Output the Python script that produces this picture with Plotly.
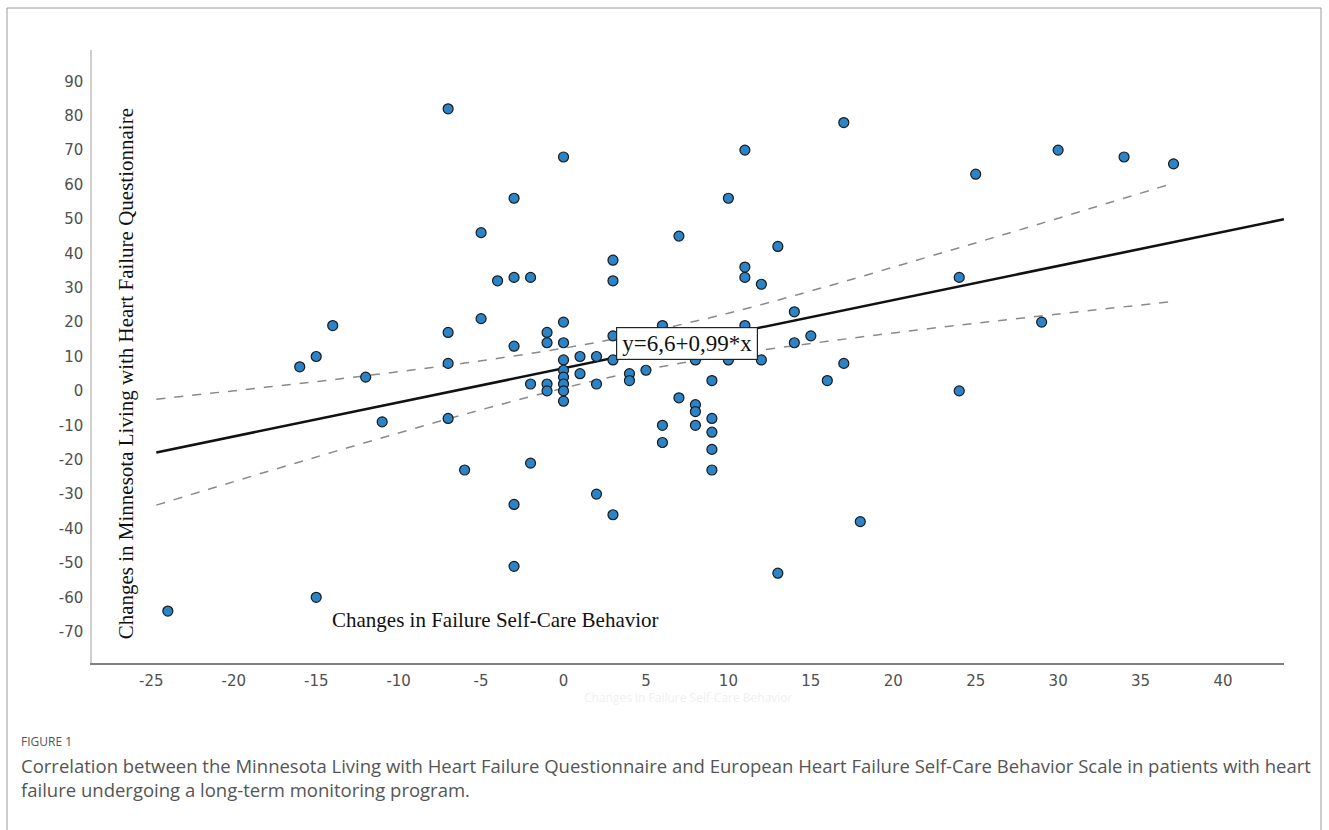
import plotly.graph_objects as go

# ---- data ----
self_care_change = [-24, -15, -16, -15, -14, -12, -11,
                    -7, -7, -7, -7, -6, -5, -5, -4,
                    -3, -3, -3, -3, -3, -2, -2, -2,
                    -1, -1, -1, -1,
                    0, 0, 0, 0, 0, 0, 0, 0, 0,
                    1, 1, 2, 2, 2,
                    3, 3, 3, 3, 3, 4, 4, 5,
                    6, 6, 6, 7, 7, 8, 8, 8, 8,
                    9, 9, 9, 9, 9,
                    10, 10, 11, 11, 11, 11, 12, 12,
                    13, 13, 14, 14, 15, 16, 17, 17, 18,
                    24, 24, 25, 29, 30, 34, 37]
mlhfq_change = [-64, -60, 7, 10, 19, 4, -9,
                82, 17, 8, -8, -23, 46, 21, 32,
                56, 33, 13, -33, -51, 33, 2, -21,
                17, 14, 2, 0,
                68, 20, 14, 9, 6, 4, 2, 0, -3,
                10, 5, 10, 2, -30,
                38, 32, 16, 9, -36, 5, 3, 6,
                19, -10, -15, 45, -2, 9, -4, -6, -10,
                3, -8, -12, -17, -23,
                56, 9, 70, 36, 33, 19, 31, 9,
                42, -53, 23, 14, 16, 3, 78, 8, -38,
                33, 0, 63, 20, 70, 68, 66]

fit_x = [-24.7, 43.7]
fit_y = [-17.9, 49.9]

band_x = [-24.7, -18, -12, -6, 0, 4.2, 10, 16, 22, 28, 37]
band_upper = [-2.4, 1.1, 4.4, 8.1, 12.4, 16.2, 22.6, 30.4, 38.8, 47.3, 60.4]
band_lower = [-33.2, -23.5, -15.0, -6.8, 0.8, 5.4, 10.4, 14.4, 18.0, 21.3, 26.0]

x_ticks = [-25, -20, -15, -10, -5, 0, 5, 10, 15, 20, 25, 30, 35, 40]
x_tick_labels = ["-25", "-20", "-15", "-10", "-5", "0", "5", "10", "15", "20", "25", "30", "35", "40"]
y_ticks = [-70, -60, -50, -40, -30, -20, -10, 0, 10, 20, 30, 40, 50, 60, 70, 80, 90]
y_tick_labels = ["-70", "-60", "-50", "-40", "-30", "-20", "-10", "0", "10", "20", "30",
                 "40", "50", "60", "70", "80", "90"]

equation_text = "y=6,6+0,99*x"
y_title = "Changes in Minnesota Living with Heart Failure Questionnaire"
x_title = "Changes in Failure Self-Care Behavior"
figure_label = "FIGURE 1"
caption_1 = ("Correlation between the Minnesota Living with Heart Failure Questionnaire and "
             "European Heart Failure Self-Care Behavior Scale in patients with heart")
caption_2 = "failure undergoing a long-term monitoring program."

SERIF = "Liberation Serif, Times New Roman, serif"
TICKFONT = "DejaVu Sans, Verdana, sans-serif"
CAPFONT = "Open Sans, Noto Sans, sans-serif"

fig = go.Figure()

fig.add_trace(go.Scatter(x=band_x, y=band_upper, mode="lines", line_shape="spline",
                         line=dict(color="#8a8a8a", width=1.5, dash="dash"),
                         hoverinfo="skip", showlegend=False))
fig.add_trace(go.Scatter(x=band_x, y=band_lower, mode="lines", line_shape="spline",
                         line=dict(color="#8a8a8a", width=1.5, dash="dash"),
                         hoverinfo="skip", showlegend=False))
fig.add_trace(go.Scatter(x=fit_x, y=fit_y, mode="lines",
                         line=dict(color="#111111", width=2.6),
                         hoverinfo="skip", showlegend=False))
fig.add_trace(go.Scatter(x=self_care_change, y=mlhfq_change, mode="markers",
                         marker=dict(size=10, color="#2b83c8",
                                     line=dict(color="#1a1a1a", width=1.2)),
                         showlegend=False))

fig.update_layout(
    width=1329, height=830,
    margin=dict(l=92, r=45, t=50, b=167),
    paper_bgcolor="white", plot_bgcolor="white",
    showlegend=False,
    xaxis=dict(range=[-28.6, 43.7], tickvals=x_ticks, ticktext=x_tick_labels,
               showgrid=False, zeroline=False,
               showline=True, linecolor="#7f7f7f", linewidth=2, ticks="",
               tickfont=dict(family=TICKFONT, size=15, color="#505050"),
               ticklabelstandoff=3),
    yaxis=dict(range=[-79.1, 99.1], tickvals=y_ticks, ticktext=y_tick_labels,
               showgrid=False, zeroline=False,
               showline=True, linecolor="#cfcfcf", linewidth=1.5, ticks="",
               tickfont=dict(family=TICKFONT, size=15, color="#505050"),
               ticklabelstandoff=4),
)

annotations = [
    dict(x=-26.56, y=5.0, xref="x", yref="y", text=y_title, textangle=-90,
         showarrow=False, font=dict(family=SERIF, size=21, color="#111111")),
    dict(x=-4.12, y=-66.6, xref="x", yref="y", text=x_title, showarrow=False,
         bgcolor="white", borderpad=2,
         font=dict(family=SERIF, size=21, color="#111111")),
    dict(x=7.46, y=13.8, xref="x", yref="y", text=equation_text, showarrow=False,
         bgcolor="white", bordercolor="#222222", borderwidth=1.2, borderpad=0,
         width=140, height=31,
         font=dict(family=SERIF, size=23, color="#111111")),
    dict(x=(688 - 92) / 1192, y=(663 - 708) / 613, xref="paper", yref="paper",
         text=x_title, showarrow=False,
         font=dict(family=CAPFONT, size=12, color="#efefef")),
    dict(x=(19 - 92) / 1192, y=(663 - 741) / 613, xref="paper", yref="paper",
         xanchor="left", yanchor="middle", text=figure_label, showarrow=False,
         font=dict(family=CAPFONT, size=12, color="#555555")),
    dict(x=(19 - 92) / 1192, y=(663 - 765) / 613, xref="paper", yref="paper",
         xanchor="left", yanchor="middle", text=caption_1, showarrow=False,
         font=dict(family=CAPFONT, size=18.5, color="#555555")),
    dict(x=(19 - 92) / 1192, y=(663 - 789) / 613, xref="paper", yref="paper",
         xanchor="left", yanchor="middle", text=caption_2, showarrow=False,
         font=dict(family=CAPFONT, size=18.5, color="#555555")),
]
fig.update_layout(annotations=annotations)

fig.add_shape(type="rect", xref="paper", yref="paper",
              x0=(7 - 92) / 1192, x1=(1321 - 92) / 1192,
              y0=-0.32, y1=(663 - 8) / 613,
              line=dict(color="#9a9a9a", width=1), fillcolor="rgba(0,0,0,0)", layer="below")

fig.write_html("out.html", config={"displayModeBar": False},
               post_script="document.body.style.margin='0px';document.body.style.overflow='hidden';")
